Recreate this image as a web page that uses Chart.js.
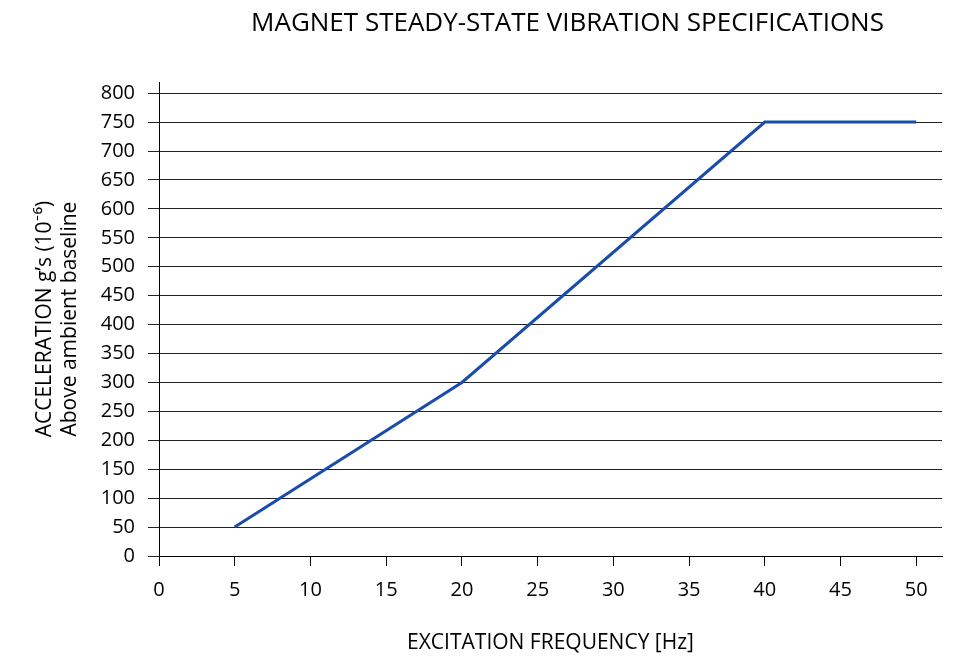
<!DOCTYPE html>
<html>
<head>
<meta charset="utf-8">
<script src="https://cdn.jsdelivr.net/npm/chart.js@4"></script>
<style>
  html, body { margin: 0; padding: 0; background: #fff; }
  #wrap { width: 954px; height: 656px; }
</style>
</head>
<body>
<div id="wrap"><canvas id="vib-chart" width="954" height="656"></canvas></div>
<script>
const frequency = [5, 20, 40, 50]
const acceleration = [50, 300, 750, 750]
const xTicks = [0, 5, 10, 15, 20, 25, 30, 35, 40, 45, 50]
const yTicks = [0, 50, 100, 150, 200, 250, 300, 350, 400, 450, 500, 550, 600, 650, 700, 750, 800]

const points = frequency.map((f, i) => ({ x: f, y: acceleration[i] }))
const fontFamily = '"Open Sans", Lato, sans-serif'

new Chart(document.getElementById('vib-chart'), {
  type: 'scatter',
  data: {
    datasets: [
      {
        data: points,
        showLine: true,
        borderColor: '#1a4cac',
        borderWidth: 3,
        pointRadius: 0,
        fill: false,
      },
    ],
  },
  options: {
    responsive: false,
    animation: false,
    layout: { padding: { left: 0, right: 12, top: 0, bottom: 0 } },
    scales: {
      x: {
        type: 'linear',
        min: 0,
        max: 51.7,
        afterBuildTicks: (scale) => {
          scale.ticks = xTicks.map((v) => ({ value: v }))
        },
        afterFit: (scale) => {
          scale.height = 100
        },
        border: { color: '#000', width: 1 },
        grid: {
          drawOnChartArea: false,
          drawTicks: true,
          tickLength: 10,
          color: '#000',
        },
        ticks: {
          padding: 12,
          color: '#000',
          font: { family: fontFamily, size: 20 },
          maxRotation: 0,
        },
        title: {
          display: true,
          text: 'EXCITATION FREQUENCY [Hz]',
          color: '#000',
          font: { family: fontFamily, size: 21, lineHeight: 1.2 },
          padding: { top: 0, bottom: 0 },
        },
      },
      y: {
        type: 'linear',
        min: 0,
        max: 819,
        afterBuildTicks: (scale) => {
          scale.ticks = yTicks.map((v) => ({ value: v }))
        },
        afterFit: (scale) => {
          scale.width = 159
        },
        border: { color: '#000', width: 1 },
        grid: {
          drawTicks: true,
          tickLength: 11,
          color: '#222',
          lineWidth: 1,
        },
        ticks: {
          padding: 13,
          color: '#000',
          font: { family: fontFamily, size: 20 },
        },
        title: {
          display: true,
          text: ['ACCELERATION g\u2019s (10\u207B\u2076)', 'Above ambient baseline'],
          color: '#000',
          font: { family: fontFamily, size: 21, lineHeight: 1.2 },
          padding: { top: 32, bottom: 0 },
        },
      },
    },
    plugins: {
      legend: { display: false },
      tooltip: { enabled: false },
      title: {
        display: true,
        text: 'MAGNET STEADY-STATE VIBRATION SPECIFICATIONS',
        color: '#000',
        font: { family: fontFamily, size: 26, weight: 'normal', lineHeight: 1.2 },
        padding: { top: 8, bottom: 43 },
        align: 'center',
      },
    },
  },
  plugins: [
    {
      id: 'titleShift',
      beforeDraw: (chart) => {
        // reference title sits right of the canvas centre
        const t = chart.titleBlock
        if (t) t.left = 193
      },
    },
  ],
})
</script>
</body>
</html>
